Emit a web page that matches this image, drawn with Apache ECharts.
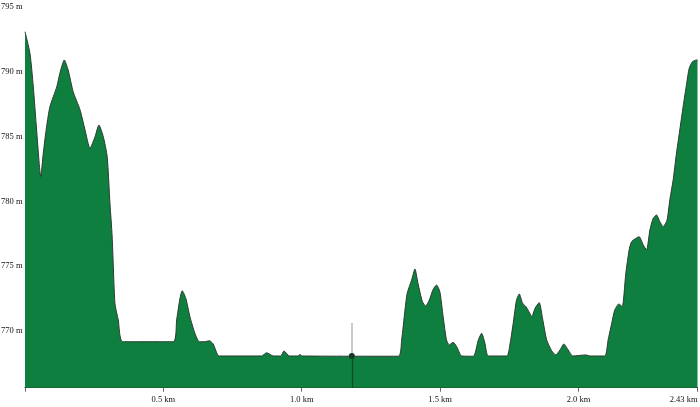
<!DOCTYPE html>
<html>
<head>
<meta charset="utf-8">
<style>
  html, body { margin: 0; padding: 0; background: #fff; }
  #chart { width: 700px; height: 407px; }
</style>
<script src="https://cdn.jsdelivr.net/npm/echarts@6/dist/echarts.min.js"></script>
</head>
<body>
<div id="chart"></div>
<script>
// distance along the track (km) and elevation (m)
var distKm = [0, 0.018, 0.030, 0.042, 0.057, 0.066, 0.078, 0.090, 0.115, 0.126, 0.142, 0.156, 0.174, 0.199,
  0.217, 0.235, 0.253, 0.267, 0.283, 0.297, 0.307, 0.315, 0.325, 0.337, 0.353, 0.536, 0.548, 0.560, 0.568,
  0.581, 0.596, 0.614, 0.630, 0.650, 0.666, 0.680, 0.702, 0.855, 0.873, 0.897, 0.924, 0.936, 0.955, 0.986,
  0.993, 1.001, 1.349, 1.361, 1.373, 1.381, 1.397, 1.409, 1.420, 1.436, 1.448, 1.461, 1.475, 1.487, 1.499,
  1.511, 1.523, 1.533, 1.547, 1.560, 1.578, 1.620, 1.638, 1.650, 1.662, 1.674, 1.741, 1.752, 1.764, 1.776,
  1.786, 1.798, 1.810, 1.824, 1.831, 1.843, 1.858, 1.870, 1.885, 1.903, 1.918, 1.933, 1.947, 1.963, 1.979,
  2.027, 2.041, 2.095, 2.107, 2.120, 2.131, 2.146, 2.158, 2.171, 2.183, 2.192, 2.219, 2.234, 2.246, 2.258,
  2.270, 2.282, 2.294, 2.306, 2.320, 2.330, 2.342, 2.354, 2.366, 2.378, 2.391, 2.400, 2.412, 2.427, 2.43];
var elevM = [793.11, 791.44, 788.87, 785.52, 781.92, 783.72, 785.78, 787.32, 788.87, 789.90, 790.93, 790.15, 788.48, 787.07,
  785.52, 784.11, 785.00, 785.91, 785.00, 783.46, 779.86, 777.28, 772.14, 770.85, 769.17, 769.17, 770.85, 772.53, 773.11,
  772.53, 771.10, 769.82, 769.17, 769.17, 769.25, 769.00, 768.07, 768.07, 768.32, 768.07, 768.07, 768.46, 768.07, 768.07,
  768.19, 768.07, 768.05, 769.31, 771.62, 772.91, 773.94, 774.79, 773.68, 772.26, 771.93, 772.39, 773.22, 773.55, 773.03,
  771.10, 769.31, 768.92, 769.13, 768.79, 768.07, 768.05, 769.31, 769.82, 769.05, 768.07, 768.07, 768.92, 770.59, 772.39,
  772.86, 772.14, 771.88, 771.37, 771.10, 771.75, 772.19, 770.98, 769.31, 768.48, 768.15, 768.53, 769.00, 768.53, 768.07,
  768.15, 768.07, 768.07, 769.31, 770.59, 771.62, 772.09, 771.88, 774.46, 776.26, 776.90, 777.28, 776.64, 776.26, 777.80,
  778.70, 778.96, 778.44, 778.05, 778.57, 780.12, 781.66, 783.72, 785.52, 787.32, 789.13, 790.29, 790.80, 790.93, 790.93];

var yLabels = [770, 775, 780, 785, 790, 795];
var xLabels = [0.5, 1.0, 1.5, 2.0, 2.43];
var xTicks = [0, 0.5, 1.0, 1.5, 2.0, 2.43];
var yMin = 765.62, yMax = 795;
var xMax = 2.43;

// current position marker
var markerKm = 1.181;
var markerElev = 768.07;
var markerTop = 770.62;

var points = distKm.map(function (d, i) { return [d, elevM[i]]; });

var chart = echarts.init(document.getElementById('chart'));
chart.setOption({
  animation: false,
  grid: { left: 25, right: 2.5, top: 7.25, bottom: 19.3, outerBoundsMode: 'none', containLabel: false },
  xAxis: {
    type: 'value',
    min: 0,
    max: xMax,
    splitLine: { show: false },
    axisLine: { show: true, lineStyle: { color: '#222', width: 1 } },
    axisTick: { show: true, length: 4, customValues: xTicks, lineStyle: { color: '#666' } },
    axisLabel: {
      customValues: xLabels,
      alignMaxLabel: 'right',
      margin: 8,
      color: '#111',
      fontFamily: 'Liberation Serif',
      fontSize: 8.5,
      formatter: function (v) {
        return (v === xMax ? v.toFixed(2) : v.toFixed(1)) + ' km';
      }
    }
  },
  yAxis: {
    type: 'value',
    min: yMin,
    max: yMax,
    splitLine: { show: false },
    axisLine: { show: false },
    axisTick: { show: false },
    axisLabel: {
      customValues: yLabels,
      margin: 2.5,
      color: '#111',
      fontFamily: 'Liberation Serif',
      fontSize: 8.5,
      formatter: function (v) { return v + ' m'; }
    }
  },
  series: [{
    type: 'line',
    data: points,
    symbol: 'none',
    smooth: 0.2,
    lineStyle: { color: '#2b3b30', width: 1 },
    areaStyle: { color: '#0f7f3f', opacity: 1, origin: 'start' },
    markLine: {
      silent: true,
      symbol: 'none',
      label: { show: false },
      data: [
        [{ coord: [markerKm, yMin], lineStyle: { color: '#0b4a24', width: 1.2, type: 'solid' } },
         { coord: [markerKm, markerElev] }],
        [{ coord: [markerKm, markerElev], lineStyle: { color: '#b8b8b8', width: 1.5, type: 'solid' } },
         { coord: [markerKm, markerTop] }]
      ]
    },
    markPoint: {
      silent: true,
      symbol: 'circle',
      symbolSize: 6,
      label: { show: false },
      itemStyle: { color: '#163a26' },
      data: [{ coord: [markerKm, markerElev] }]
    }
  }]
});
</script>
</body>
</html>
